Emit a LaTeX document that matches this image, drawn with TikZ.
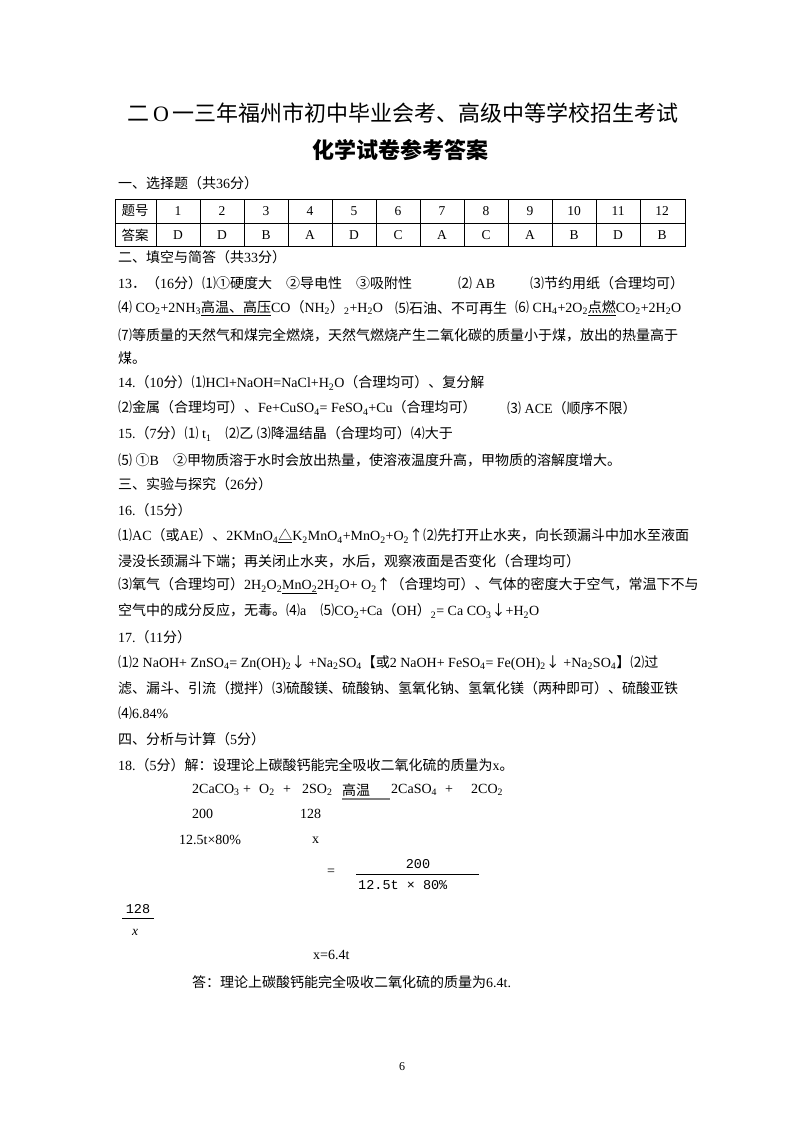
\documentclass[tikz,border=0pt]{standalone}
\usepackage{fontspec}
\setmainfont{Liberation Serif}
\newfontfamily\cjk{Noto Sans CJK SC}
\newfontfamily\monof{Liberation Mono}
\XeTeXinterchartokenstate=1
\newXeTeXintercharclass\cjkcls
\makeatletter
\def\setcls#1#2{\count255=#1 \loop\XeTeXcharclass\count255=\cjkcls \ifnum\count255<#2 \advance\count255 1 \repeat}
\setcls{"4E00}{"9FFF}
\setcls{"3000}{"303F}
\setcls{"FF00}{"FFEF}
\setcls{"2460}{"24FF}
\setcls{"2190}{"21FF}
\setcls{"25A0}{"25FF}
\makeatother
\XeTeXinterchartoks 0 \cjkcls = {\begingroup\cjk}
\XeTeXinterchartoks 4095 \cjkcls = {\begingroup\cjk}
\XeTeXinterchartoks \cjkcls 0 = {\endgroup}
\XeTeXinterchartoks \cjkcls 4095 = {\endgroup}
\newcommand\dn[1]{\textsubscript{#1}}
\tikzset{ln/.style={anchor=west,inner sep=0pt,font=\fontsize{14}{16}\selectfont},
 cell/.style={inner sep=0pt,font=\fontsize{13.5}{16}\selectfont}}
\begin{document}
\begin{tikzpicture}[x=1pt,y=-1pt]
\useasboundingbox (0,0) rectangle (800,1132);
\node[inner sep=0pt,font=\fontsize{22}{26}\selectfont] (t1) at (403,113) {二\,O\,一三年福州市初中毕业会考、高级中等学校招生考试};
\node[inner sep=0pt,font=\fontsize{22}{26}\selectfont\bfseries] (t2) at (400,150) {化学试卷参考答案};
\node[ln] (s1) at (118,183) {一、选择题（共36分）};
% table
\draw[line width=0.8pt] (115,199) rectangle (685,246);
\draw[line width=0.6pt] (115,223) -- (685,223);
\foreach \i in {0,...,11} \draw[line width=0.6pt] (156+44*\i,199) -- (156+44*\i,246);
\node[cell] (h0) at (135,211) {题号};
\node[cell] (a0) at (135,235) {答案};
\foreach \n/\a [count=\k from 0] in {1/D,2/D,3/B,4/A,5/D,6/C,7/A,8/C,9/A,10/B,11/D,12/B}{
 \node[cell] (h\n) at (178+44*\k,211) {\n};
 \node[cell] (a\n) at (178+44*\k,235) {\a};}
\node[ln] (s2) at (118,257) {二、填空与简答（共33分）};
\node[ln] (l1a) at (118,283) {13．（16分）⑴①硬度大\quad ②导电性\quad ③吸附性};
\node[ln] (l1b) at (458,283) {⑵ AB};
\node[ln] (l1c) at (530,283) {⑶节约用纸（合理均可）};
\node[ln] (l2a) at (118,308) {⑷ CO\dn2+2NH\dn3\underline{高温、高压}CO（NH\dn2）\dn2+H\dn2O};
\node[ln] (l2b) at (395,308) {⑸石油、不可再生};
\node[ln] (l2c) at (515,308) {⑹ CH\dn4+2O\dn2\underline{点燃}CO\dn2+2H\dn2O};
\node[ln] (l3) at (118,335) {⑺等质量的天然气和煤完全燃烧，天然气燃烧产生二氧化碳的质量小于煤，放出的热量高于};
\node[ln] (l4) at (118,358) {煤。};
\node[ln] (l5) at (118,383) {14.（10分）⑴HCl+NaOH=NaCl+H\dn2O（合理均可）、复分解};
\node[ln] (l6a) at (118,408) {⑵金属（合理均可）、Fe+CuSO\dn4= FeSO\dn4+Cu（合理均可）};
\node[ln] (l6b) at (507,408) {⑶ ACE（顺序不限）};
\node[ln] (l7) at (118,434) {15.（7分）⑴ t\dn1\quad ⑵乙 ⑶降温结晶（合理均可）⑷大于};
\node[ln] (l8) at (118,460) {⑸ ①B\quad ②甲物质溶于水时会放出热量，使溶液温度升高，甲物质的溶解度增大。};
\node[ln] (s3) at (118,484) {三、实验与探究（26分）};
\node[ln] (l9) at (118,510) {16.（15分）};
\node[ln] (l10) at (118,536) {⑴AC（或AE）、2KMnO\dn4\underline{△}K\dn2MnO\dn4+MnO\dn2+O\dn2↑⑵先打开止水夹，向长颈漏斗中加水至液面};
\node[ln] (l11) at (118,562) {浸没长颈漏斗下端；再关闭止水夹，水后，观察液面是否变化（合理均可）};
\node[ln] (l12) at (118,586) {⑶氧气（合理均可）2H\dn2O\dn2\underline{MnO\dn2}2H\dn2O+ O\dn2↑（合理均可）、气体的密度大于空气，常温下不与};
\node[ln] (l13) at (118,611) {空气中的成分反应，无毒。⑷a\quad ⑸CO\dn2+Ca（OH）\dn2= Ca CO\dn3↓+H\dn2O};
\node[ln] (l14) at (118,637) {17.（11分）};
\node[ln] (l15) at (118,663) {⑴2 NaOH+ ZnSO\dn4= Zn(OH)\dn2↓ +Na\dn2SO\dn4【或2 NaOH+ FeSO\dn4= Fe(OH)\dn2↓ +Na\dn2SO\dn4】⑵过};
\node[ln] (l16) at (118,688) {滤、漏斗、引流（搅拌）⑶硫酸镁、硫酸钠、氢氧化钠、氢氧化镁（两种即可）、硫酸亚铁};
\node[ln] (l17) at (118,713) {⑷6.84\%};
\node[ln] (s4) at (118,739) {四、分析与计算（5分）};
\node[ln] (l18) at (118,765) {18.（5分）解：设理论上碳酸钙能完全吸收二氧化硫的质量为x。};
% equation
\node[ln] (e1) at (192,790) {2CaCO\dn3};
\node[ln] (e2) at (243,790) {+};
\node[ln] (e3) at (259,790) {O\dn2};
\node[ln] (e4) at (283,790) {+};
\node[ln] (e5) at (302,790) {2SO\dn2};
\node[ln] (e6) at (342,790) {高温};
\draw[gray,line width=1.2pt] (342,799) -- (390,799);
\node[ln] (e7) at (391,790) {2CaSO\dn4};
\node[ln] (e8) at (445,790) {+};
\node[ln] (e9) at (471,790) {2CO\dn2};
\node[ln] (m1) at (192,814) {200};
\node[ln] (m2) at (300,814) {128};
\node[ln] (m3) at (179,840) {12.5t×80\%};
\node[ln] (m4) at (312,840) {x};
\node[ln] (eq) at (327,872) {=};
\node[inner sep=0pt,font=\monof\fontsize{13.5}{16}\selectfont] (fn) at (418,864) {200};
\draw[line width=0.8pt] (356,874) -- (479,874);
\node[anchor=west,inner sep=0pt,font=\monof\fontsize{13.5}{16}\selectfont] (fd) at (358,885) {12.5t × 80\%};
\node[inner sep=0pt,font=\monof\fontsize{13.5}{16}\selectfont] (gn) at (138,909) {128};
\draw[line width=0.8pt] (122,918) -- (154,918);
\node[inner sep=0pt,font=\itshape\fontsize{13.5}{16}\selectfont] (gd) at (135,932) {x};
\node[ln] (r1) at (313,955) {x=6.4t};
\node[ln] (r2) at (192,982) {答：理论上碳酸钙能完全吸收二氧化硫的质量为6.4t.};
\node[inner sep=0pt,font=\fontsize{12}{14}\selectfont] (pg) at (402,1067) {6};
\end{tikzpicture}
\end{document}
